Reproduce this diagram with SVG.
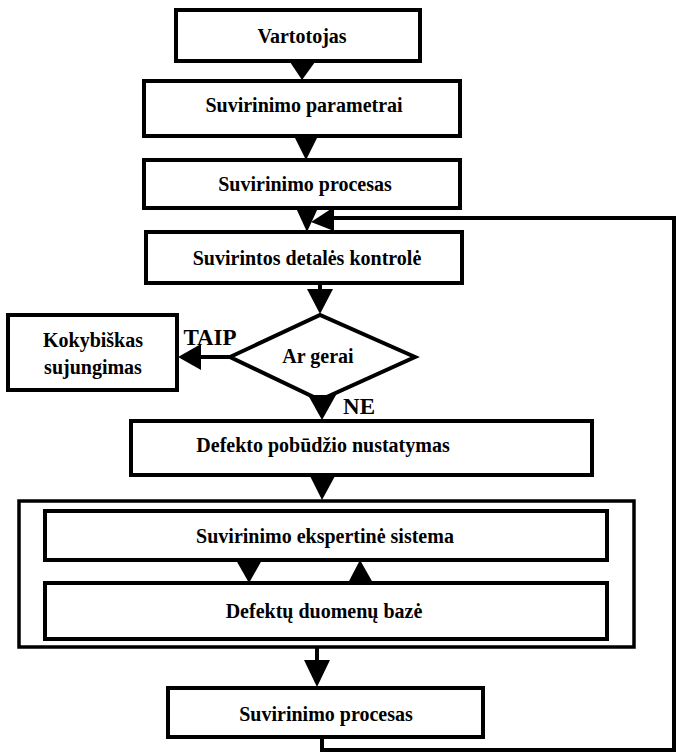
<svg xmlns="http://www.w3.org/2000/svg" width="678" height="754" viewBox="0 0 678 754">
<style>
.box{fill:#fff;stroke:#000;stroke-width:4}
.outer{fill:#fff;stroke:#000;stroke-width:3.5}
.t{font-family:"Liberation Serif","Times New Roman",serif;font-weight:bold;font-size:20px;text-anchor:middle;fill:#000}
.lb{font-size:23px}
.ln{fill:none;stroke:#000;stroke-width:4}
.ah{fill:#000;stroke:none}
</style>
<rect width="678" height="754" fill="#fff"/>
<g id="n1"><rect class="box" x="176" y="10" width="244" height="51"/><text class="t" x="302" y="43">Vartotojas</text></g>
<g id="n2"><rect class="box" x="144" y="81" width="316" height="55"/><text class="t" x="304" y="112">Suvirinimo parametrai</text></g>
<g id="n3"><rect class="box" x="144" y="160" width="316" height="48"/><text class="t" x="305" y="191">Suvirinimo procesas</text></g>
<g id="n4"><rect class="box" x="146" y="232" width="316" height="51"/><text class="t" x="307" y="265">Suvirintos detalės kontrolė</text></g>
<g id="n5"><polygon class="box" points="230,357 320,315 415,357 320,400"/><text class="t" x="318" y="363">Ar  gerai</text></g>
<g id="n6"><rect class="box" x="8" y="315" width="169" height="75"/><text class="t" x="93" y="347">Kokybiškas</text><text class="t" x="93" y="374">sujungimas</text></g>
<g id="n7"><rect class="box" x="131" y="421" width="461" height="54"/><text class="t" x="323" y="452">Defekto pobūdžio nustatymas</text></g>
<g id="n8"><rect class="outer" x="19" y="501" width="615" height="146"/></g>
<g id="n9"><rect class="box" x="45" y="511" width="562" height="49"/><text class="t" x="325" y="543">Suvirinimo ekspertinė sistema</text></g>
<g id="n10"><rect class="box" x="45" y="583" width="562" height="56"/><text class="t" x="324" y="618">Defektų duomenų bazė</text></g>
<g id="n11"><rect class="box" x="168" y="688" width="315" height="49"/><text class="t" x="326" y="721">Suvirinimo procesas</text></g>
<g id="labels"><text class="t lb" x="210" y="345">TAIP</text><text class="t lb" x="359" y="414">NE</text></g>
<g id="connectors">
<polygon class="ah" points="290,62 315,62 302,80"/>
<polygon class="ah" points="294,136 318,136 306,160"/>
<polygon class="ah" points="296,208 318,208 307,232"/>
<line class="ln" x1="320" y1="283" x2="320" y2="292"/>
<polygon class="ah" points="307,289 333,289 320,314"/>
<line class="ln" x1="230" y1="357" x2="195" y2="357"/>
<polygon class="ah" points="201,344 201,370 178,357"/>
<polygon class="ah" points="308,395 336,395 322,420"/>
<polygon class="ah" points="310,476 335,476 322,500"/>
<polygon class="ah" points="236,560 262,560 249,583"/>
<polygon class="ah" points="348,583 373,583 360,560"/>
<line class="ln" x1="317" y1="647" x2="317" y2="664"/>
<polygon class="ah" points="304,660 330,660 317,687"/>
<polyline class="ln" points="322,737 322,750 674,750 674,218 330,218"/>
<polygon class="ah" points="334,207 334,231 311,222"/>
</g>
</svg>
